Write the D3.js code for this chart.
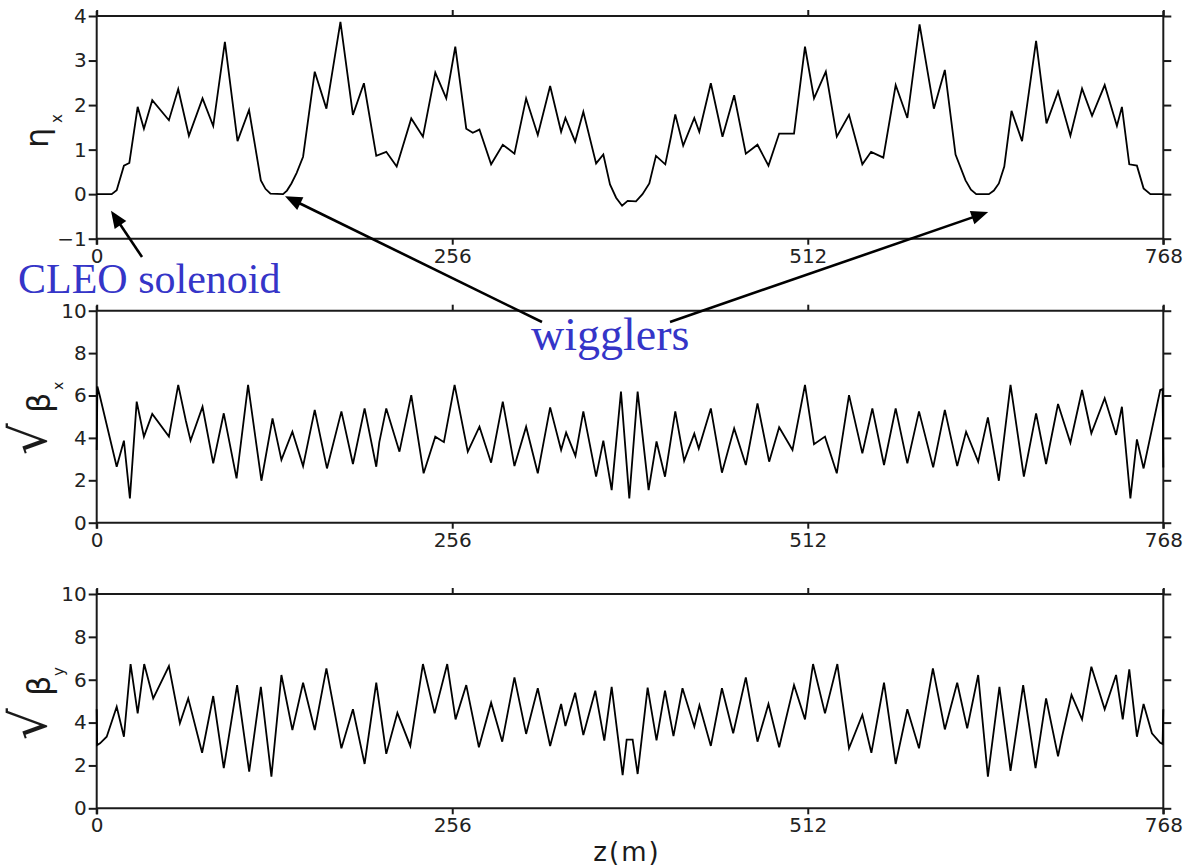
<!DOCTYPE html>
<html>
<head>
<meta charset="utf-8">
<script src="https://cdn.jsdelivr.net/npm/d3@7/dist/d3.min.js"></script>
<style>
  html, body { margin: 0; padding: 0; background: #fff; }
  svg { display: block; }
</style>
</head>
<body>
<svg id="chart" width="1198" height="867"></svg>
<script>
// ---------------- data ----------------
const xTicks = [0, 256, 512, 768];
const etaTicks = [-1, 0, 1, 2, 3, 4];
const betaTicks = [0, 2, 4, 6, 8, 10];

// eta_x (m) vs z (m)
const zEta = [0,10.8,14.4,19.6,23.5,29.5,34,40,52,58.7,66.4,76.2,83.9,92.3,101.4,109.7,118.2,121.5,125.1,134.2,137,140.2,144,148.6,157,165.4,175.5,184.5,192.4,201.3,208.5,216,226.5,234.9,243.8,251.7,258.2,266.1,270.8,275.6,284,292.4,300.8,309.2,317.6,326.5,334.4,337.5,344.5,350.4,359.6,364.8,369.6,374,378.3,382.3,388.3,393,397.9,402.7,409.4,413.5,416.6,422.3,430.3,433.9,442.2,450.6,459,467.4,475.8,483.7,491.4,502.1,510,516.5,525,532.9,541.7,551.3,557.6,566.4,575.3,583.7,592.5,602.8,610.7,618.4,625.6,629.5,633.3,642.4,646,649.6,653.5,658.7,666.3,676.4,683.9,692.2,701.1,709.5,716.7,725.8,734.6,738.2,743.5,749,753.8,758.7,768];
const eta  = [0,0,0.09,0.64,0.70,1.96,1.47,2.11,1.66,2.36,1.31,2.15,1.53,3.42,1.19,1.89,0.31,0.12,0.01,0,0.08,0.24,0.48,0.84,2.75,1.92,3.87,1.78,2.49,0.86,0.95,0.62,1.70,1.29,2.73,2.15,3.31,1.47,1.38,1.45,0.67,1.11,0.91,2.15,1.33,2.43,1.40,1.71,1.18,1.85,0.69,0.89,0.22,-0.08,-0.26,-0.15,-0.16,0.0,0.24,0.86,0.67,1.29,1.79,1.09,1.71,1.40,2.49,1.29,2.22,0.91,1.11,0.64,1.36,1.36,3.31,2.15,2.75,1.29,1.78,0.67,0.95,0.82,2.45,1.71,3.81,1.92,2.79,0.89,0.31,0.10,0,0,0.08,0.24,0.62,1.87,1.19,3.44,1.59,2.30,1.31,2.37,1.76,2.45,1.53,1.96,0.67,0.64,0.13,0,0];

// sqrt(beta_x) vs z
const zBx = [0,0.5,2.4,14.4,19.6,23.9,28.8,34,40,52,58.7,64.2,67.6,76.2,83.9,91.5,100.7,109,118.6,126.6,133,140.9,148.6,157,165.8,176.2,184.5,192.9,201.3,203.5,208.5,218,226.5,235.4,243.8,250,257.7,267.2,275.6,284,292.4,300.8,309.2,317.6,326.5,334.4,338,344.7,350.4,359.6,364.8,370.8,377.5,383.5,389.5,397.4,403.1,409.2,416.6,423,430.3,433.5,442.2,450.2,459,467.4,475.8,484.2,491.4,501,510,516.5,524.4,532.9,541.7,551.3,558.5,566.9,575.3,583.7,592.1,602.3,610.7,619.6,626,634.7,641.7,649.6,658,667.6,676.4,683.6,692.2,701.1,709.5,716.2,725.8,734,738.2,744.3,749,753.8,765.8,767.5,768];
const betaX = [3.43,6.42,5.94,2.64,3.87,1.15,5.71,4.06,5.13,4.06,6.50,4.81,3.87,5.47,2.80,5.16,2.09,6.50,1.98,4.92,2.96,4.29,2.67,5.32,2.56,5.25,2.77,5.39,2.64,3.8,5.39,3.35,6.02,2.33,4.06,3.8,6.50,3.35,4.53,2.83,5.71,2.67,4.53,2.33,5.44,3.43,4.25,3.15,5.25,2.17,3.87,1.54,6.18,1.15,6.18,1.54,3.83,2.17,5.25,2.92,4.20,3.5,5.39,2.36,4.45,2.72,5.63,2.88,4.5,3.43,6.50,3.70,4.06,2.33,6.02,3.27,5.39,2.72,5.39,2.80,5.25,2.61,5.32,2.67,4.29,2.88,4.97,1.98,6.50,2.17,5.16,2.77,5.60,3.77,6.26,4.22,5.87,4.14,5.47,1.15,3.93,2.56,6.26,6.3,2.6];

// sqrt(beta_y) vs z
const zBy = [0,0.3,2.4,7.2,14.4,19.6,24.4,29.5,34.2,40.7,52,59.9,65.9,75.9,83.9,91.5,101.1,109.8,118.2,125.8,133,140.9,148.6,157,165.4,176.2,184.5,192.9,201.3,208.5,216.5,225.8,234.9,243.3,252.4,258.4,266.1,275.2,284,292,300.8,309.2,317.6,326.5,334.4,337.5,344.5,350.4,359,365.5,370.8,378.7,381.6,385.9,389.5,396.7,403.1,409.2,415.3,421.8,430.3,434,442.2,450.2,458.3,467.4,475.8,483.7,491.4,502.1,510,515.8,524.4,533.3,541.7,551.3,557.8,566.9,575.3,583.7,592.1,602.1,610.7,619.6,626.8,634.7,641.7,650,658,667.1,676,683.6,692.2,695.1,701.9,709.5,716.2,725.8,734,738.8,743.5,749,753.8,759.8,765.8,767.5,768];
const betaY = [4.62,2.95,3.03,3.34,4.74,3.34,6.73,4.43,6.73,5.13,6.64,3.97,5.13,2.59,5.24,1.87,5.75,1.71,5.67,1.48,6.22,3.65,5.86,3.65,6.53,2.80,4.62,2.07,5.86,2.54,4.45,2.91,6.73,4.43,6.73,4.15,5.75,2.85,4.93,3.11,6.11,3.47,5.6,2.91,4.87,3.84,5.39,3.42,5.49,3.16,5.67,1.55,3.2,3.2,1.6,5.63,3.17,5.49,3.37,5.6,3.81,4.81,2.91,5.6,3.5,6.11,3.11,4.87,2.85,5.75,4.15,6.73,4.43,6.73,2.80,4.36,2.59,5.86,2.07,4.62,2.80,6.53,3.68,5.86,3.73,6.22,1.48,5.67,1.75,5.75,1.87,5.13,2.43,3.34,5.29,4.15,6.61,4.62,6.22,4.15,6.48,3.34,4.87,3.5,3.06,3.0,4.62];

// annotations: tip positions given in data coordinates of the top panel
const annoCleo = { text: "CLEO solenoid", tipZ: 10.3, tipV: -0.375 };
const annoWig  = { text: "wigglers", tips: [[135.6, -0.045], [641.9, -0.40]] };

// ---------------- layout ----------------
const svg = d3.select("#chart");
svg.append("rect").attr("width", 1198).attr("height", 867).attr("fill", "#fff");

const X0 = 96.7, X1 = 1163.3;
const x = d3.scaleLinear().domain([0, 768]).range([X0, X1]);

const panels = [
  { z: zEta, v: eta,   dom: [-1, 4], rng: [238.7, 16],   ticks: etaTicks },
  { z: zBx,  v: betaX, dom: [0, 10], rng: [522.7, 310.7], ticks: betaTicks },
  { z: zBy,  v: betaY, dom: [0, 10], rng: [808.3, 594],   ticks: betaTicks }
];

const frameColor = "#1a1a1a";
const tickFont = "'DejaVu Sans', sans-serif";

panels.forEach((p, i) => {
  const y = d3.scaleLinear().domain(p.dom).range(p.rng);
  p.y = y;
  const yTop = p.rng[1], yBot = p.rng[0];
  const g = svg.append("g");

  // frame
  g.append("line").attr("x1", X0).attr("x2", X1).attr("y1", yTop).attr("y2", yTop);
  g.append("line").attr("x1", X0).attr("x2", X1).attr("y1", yBot).attr("y2", yBot);
  g.append("line").attr("x1", X0).attr("x2", X0).attr("y1", yTop - 5).attr("y2", yBot + 6);
  g.append("line").attr("x1", X1).attr("x2", X1).attr("y1", yTop - 5).attr("y2", yBot + 6);
  g.selectAll("line").attr("stroke", frameColor).attr("stroke-width", 2);

  const la = g.append("g").attr("transform", `translate(${X0},0)`)
    .call(d3.axisLeft(y).tickValues(p.ticks).tickSize(8).tickSizeOuter(0).tickPadding(2)
      .tickFormat(d => d < 0 ? "\u2212" + Math.abs(d) : d));
  const ra = g.append("g").attr("transform", `translate(${X1},0)`)
    .call(d3.axisRight(y).tickValues(p.ticks).tickSize(8).tickSizeOuter(0).tickFormat(""));
  const ba = g.append("g").attr("transform", `translate(0,${yBot})`)
    .call(d3.axisBottom(x).tickValues(xTicks).tickSize(6).tickSizeOuter(0).tickPadding(4));
  const ta = g.append("g").attr("transform", `translate(0,${yTop})`)
    .call(d3.axisTop(x).tickValues(xTicks).tickSize(6).tickSizeOuter(0).tickFormat(""));

  [la, ra, ba, ta].forEach(a => {
    a.select(".domain").remove();
    a.selectAll(".tick line").attr("stroke", frameColor).attr("stroke-width", 2);
    a.selectAll(".tick text").attr("fill", "#222").attr("font-family", tickFont).attr("font-size", 20);
  });

  const pts = p.z.map((zz, k) => [zz, p.v[k]]);
  g.append("path")
    .datum(pts)
    .attr("fill", "none")
    .attr("stroke", "#000")
    .attr("stroke-width", 1.8)
    .attr("stroke-linejoin", "miter")
    .attr("d", d3.line().x(d => x(d[0])).y(d => y(d[1])));
});

// ---------------- axis titles (rotated, reading upward) ----------------
const lab = svg.append("g").attr("font-family", tickFont).attr("fill", "#1a1a1a");

// eta_x
const t1 = lab.append("text").attr("transform", "rotate(-90)");
t1.append("tspan").attr("x", -148).attr("y", 48).attr("font-size", 32).text("\u03B7");
t1.append("tspan").attr("x", -123).attr("y", 62).attr("font-size", 15).text("x");

// sqrt beta_x
const t2 = lab.append("text").attr("transform", "rotate(-90)");
t2.append("tspan").attr("x", -455).attr("y", 46).attr("font-size", 50).text("\u221A");
t2.append("tspan").attr("x", -413).attr("y", 50).attr("font-size", 32).text("\u03B2");
t2.append("tspan").attr("x", -390).attr("y", 63).attr("font-size", 14).text("x");

// sqrt beta_y
const t3 = lab.append("text").attr("transform", "rotate(-90)");
t3.append("tspan").attr("x", -740).attr("y", 46).attr("font-size", 50).text("\u221A");
t3.append("tspan").attr("x", -696).attr("y", 50).attr("font-size", 32).text("\u03B2");
t3.append("tspan").attr("x", -676).attr("y", 64).attr("font-size", 15).text("y");

// z(m)
svg.append("text").attr("x", 627).attr("y", 861).attr("text-anchor", "middle")
  .attr("font-family", tickFont).attr("font-size", 26).attr("letter-spacing", 2)
  .attr("fill", "#1a1a1a").text("z(m)");

// ---------------- annotations ----------------
const blue = "#3535c8";
const serif = "'Liberation Serif', 'Times New Roman', serif";
svg.append("text").attr("x", 18).attr("y", 293).attr("font-family", serif).attr("font-size", 42)
  .attr("fill", blue).text(annoCleo.text);
svg.append("text").attr("x", 531).attr("y", 350).attr("font-family", serif).attr("font-size", 46)
  .attr("fill", blue).text(annoWig.text);

const yTopPanel = panels[0].y;
function arrow(x1, y1, x2, y2) {
  const L = 17, hw = 7;
  const dx = x2 - x1, dy = y2 - y1, len = Math.hypot(dx, dy);
  const ux = dx / len, uy = dy / len;
  const bx = x2 - ux * L, by = y2 - uy * L;
  svg.append("line").attr("x1", x1).attr("y1", y1).attr("x2", bx + ux * 2).attr("y2", by + uy * 2)
    .attr("stroke", "#000").attr("stroke-width", 2.6);
  svg.append("polygon")
    .attr("points", [[x2, y2], [bx - uy * hw, by + ux * hw], [bx + uy * hw, by - ux * hw]].map(p => p.join(",")).join(" "))
    .attr("fill", "#000");
}
arrow(142, 257, x(annoCleo.tipZ), yTopPanel(annoCleo.tipV));
arrow(542, 322, x(annoWig.tips[0][0]), yTopPanel(annoWig.tips[0][1]));
arrow(670, 322, x(annoWig.tips[1][0]), yTopPanel(annoWig.tips[1][1]));
</script>
</body>
</html>
